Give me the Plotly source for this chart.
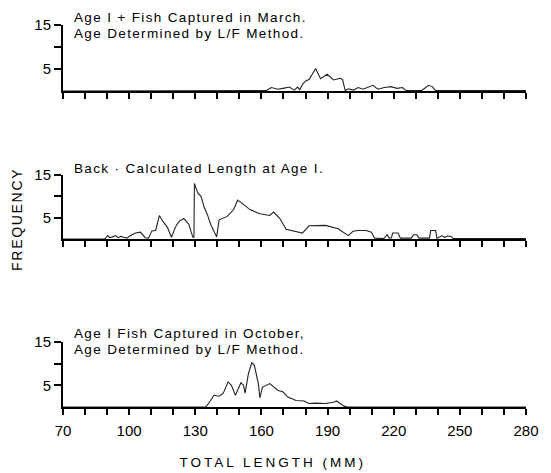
import plotly.graph_objects as go

# Length-frequency distributions of age I fish (total length in mm)
march_len = [70, 160, 162.3, 164.5, 167.5, 169.7, 172.7, 174.9, 176.4, 177.4, 178.6, 180.1,
             181.6, 184.6, 186.8, 189.8, 192.7, 195.7, 196.8, 198.0, 199.4, 201.7, 203.9,
             206.1, 208.3, 210.6, 212.8, 215.8, 218.8, 221.5, 224.0, 225.6, 232.7, 235.8,
             237.5, 238.9, 280]
march_freq = [0, 0, 0.1, 0.8, 0.4, 0.6, 0.9, 0.2, 0.9, 0.3, 1.5, 2.3,
              2.6, 5.1, 2.8, 3.8, 2.5, 2.9, 2.6, 0.1, 0.5, 0.2, 0.8,
              0.4, 0.9, 1.3, 0.4, 0.8, 1.0, 0.6, 0.8, 0.1, 0.1, 1.3,
              1.0, 0.1, 0.1]

back_len = [70, 89.0, 90.2, 91.3, 92.4, 93.9, 95.0, 96.2, 97.6, 99.0, 100.6, 102.9, 105.1,
            106.5, 107.3, 108.8, 110.3, 112.0, 113.7, 115.5, 117.3, 119.2, 121.0, 122.8,
            124.8, 127.1, 128.9, 129.4, 129.6, 131.1, 132.6, 134.1, 135.5, 137.0, 139.7,
            140.8, 144.5, 147.4, 149.2, 151.1, 154.8, 159.3, 163.8, 165.5, 168.2, 171.2,
            178.6, 181.6, 189.0, 194.8, 199.4, 201.5, 203.9, 207.5, 209.9, 211.3, 215.5,
            217.0, 218.0, 219.0, 219.5, 222.0, 223.0, 228.0, 229.0, 230.5, 231.4, 236.2,
            236.8, 239.0, 239.6, 241.0, 241.8, 243.0, 244.5, 246.0, 247.0, 280]
back_freq = [0, 0, 0.8, 0.3, 0.5, 0.8, 0.3, 0.6, 0.4, 0.2, 0.8, 1.4, 1.6,
             0.9, 0.3, 0.2, 1.9, 2.0, 5.5, 4.0, 2.8, 0.4, 2.8, 4.2,
             4.8, 3.4, 0.4, 0.4, 13.0, 10.8, 10.0, 7.3, 5.7, 3.4, 0.5,
             4.5, 5.3, 6.9, 9.1, 8.4, 6.9, 5.9, 5.5, 6.3, 4.9, 2.3,
             1.4, 3.1, 3.2, 2.4, 0.8, 1.8, 2.0, 2.0, 1.6, 0.2, 0.1,
             1.0, 0.2, 0.3, 1.4, 1.4, 0.2, 0.2, 1.0, 1.0, 0.2, 0.2,
             2.0, 2.0, 0.2, 0.5, 0.8, 0.4, 0.7, 0.6, 0.1, 0.1]

october_len = [70, 134.8, 136.5, 138.5, 140.8, 142.7, 144.9, 146.4, 148.2, 150.7, 151.9,
               152.6, 154.1, 155.6, 156.8, 158.6, 159.3, 160.5, 163.8, 167.5, 169.7, 172.0,
               175.7, 179.4, 181.6, 184.6, 189.0, 192.7, 194.1, 195.6, 197.5, 199.0, 280]
october_freq = [0, 0, 1.2, 2.7, 2.5, 3.2, 5.8, 5.0, 2.7, 5.6, 5.0,
                3.2, 7.7, 10.2, 9.6, 5.4, 2.1, 4.6, 5.4, 3.8, 3.5, 2.3,
                1.5, 1.4, 0.8, 0.9, 0.8, 1.1, 1.4, 0.8, 0.2, 0, 0]

x_ticks = list(range(70, 281, 10))
x_tick_text = [str(v) if (v - 70) % 30 == 0 else "" for v in x_ticks]
y_ticks = [5, 10, 15]
y_tick_text = ["5", "", "15"]

panel_titles = [
    ["Age I + Fish Captured in March.", "Age Determined by L/F Method."],
    ["Back · Calculated Length at Age I."],
    ["Age I Fish Captured in October,", "Age Determined by L/F Method."],
]

FONT = "Liberation Sans, Arial, Helvetica, sans-serif"
INK = "#000000"
W, H = 551, 473
M = dict(l=63, r=17, t=25, b=66)
plot_h = H - M["t"] - M["b"]
plot_w = W - M["l"] - M["r"]


def py(pixel_y):
    """Paper y coordinate of a page pixel row."""
    return (H - M["b"] - pixel_y) / plot_h


def px(pixel_x):
    """Paper x coordinate of a page pixel column."""
    return (pixel_x - M["l"]) / plot_w


# panel (top, bottom) rows on the page
panels = [(25, 91), (175, 239), (342, 407)]
series = [(march_len, march_freq), (back_len, back_freq), (october_len, october_freq)]

fig = go.Figure()
layout = dict(
    width=W, height=H, margin=M,
    paper_bgcolor="white", plot_bgcolor="white",
    showlegend=False,
    font=dict(family=FONT, color=INK, size=15),
)

for i, ((xs, ys), (top, bottom)) in enumerate(zip(series, panels)):
    suffix = "" if i == 0 else str(i + 1)
    fig.add_trace(go.Scatter(
        x=xs, y=ys, mode="lines",
        line=dict(color="#222222", width=1.1),
        xaxis="x" + suffix, yaxis="y" + suffix,
        hoverinfo="skip",
    ))
    layout["xaxis" + suffix] = dict(
        domain=[0, 1], anchor="y" + suffix, range=[70, 280],
        tickmode="array", tickvals=x_ticks, ticktext=x_tick_text,
        showticklabels=(i == 2),
        ticks="outside", ticklen=6, tickwidth=2, tickcolor=INK,
        showline=True, linewidth=2, linecolor=INK,
        showgrid=False, zeroline=False,
        tickfont=dict(size=15, family=FONT, color=INK),
        ticklabelstandoff=3,
    )
    layout["yaxis" + suffix] = dict(
        domain=[py(bottom), py(top)], anchor="x" + suffix, range=[0, 15],
        tickmode="array", tickvals=y_ticks, ticktext=y_tick_text,
        ticks="outside", ticklen=7, tickwidth=2, tickcolor=INK,
        showline=True, linewidth=2, linecolor=INK,
        showgrid=False, zeroline=False,
        tickfont=dict(size=15, family=FONT, color=INK),
    )

annotations = []
title_rows = [[17.5, 33.0], [168.0], [333.0, 349.0]]
for lines, rows in zip(panel_titles, title_rows):
    for text, row in zip(lines, rows):
        annotations.append(dict(
            text=text, x=px(72), y=py(row), xref="paper", yref="paper",
            xanchor="left", yanchor="middle", showarrow=False,
            font=dict(size=13.5, family=FONT, color=INK),
        ))

annotations.append(dict(
    text="FREQUENCY", x=px(16.5), y=py(219), xref="paper", yref="paper",
    xanchor="center", yanchor="middle", textangle=-90, showarrow=False,
    font=dict(size=14, family=FONT, color=INK),
))
annotations.append(dict(
    text="TOTAL LENGTH (MM)", x=px(277), y=py(462), xref="paper", yref="paper",
    xanchor="center", yanchor="middle", showarrow=False,
    font=dict(size=13.5, family=FONT, color=INK),
))
layout["annotations"] = annotations
fig.update_layout(**layout)

# Widen the letter spacing of the printed captions, keeping the left edge of
# the panel captions fixed.
spread_js = """
var gd = document.getElementById('{plot_id}');
var wide = {'FREQUENCY': 1.7, 'TOTAL LENGTH (MM)': 3.0};
gd.querySelectorAll('text.annotation-text').forEach(function (t) {
  var s = t.textContent;
  var centred = Object.prototype.hasOwnProperty.call(wide, s);
  var ls = centred ? wide[s] : 1.35;
  var b0 = t.getBBox();
  t.style.letterSpacing = ls + 'px';
  if (!centred) {
    var b1 = t.getBBox();
    var dx = b0.x - b1.x;
    var nodes = [t].concat(Array.prototype.slice.call(t.querySelectorAll('tspan[x]')));
    nodes.forEach(function (n) {
      var x = parseFloat(n.getAttribute('x') || '0');
      n.setAttribute('x', x + dx);
    });
  }
});
"""

fig.write_html("out.html", post_script=spread_js, config={"displayModeBar": False})
